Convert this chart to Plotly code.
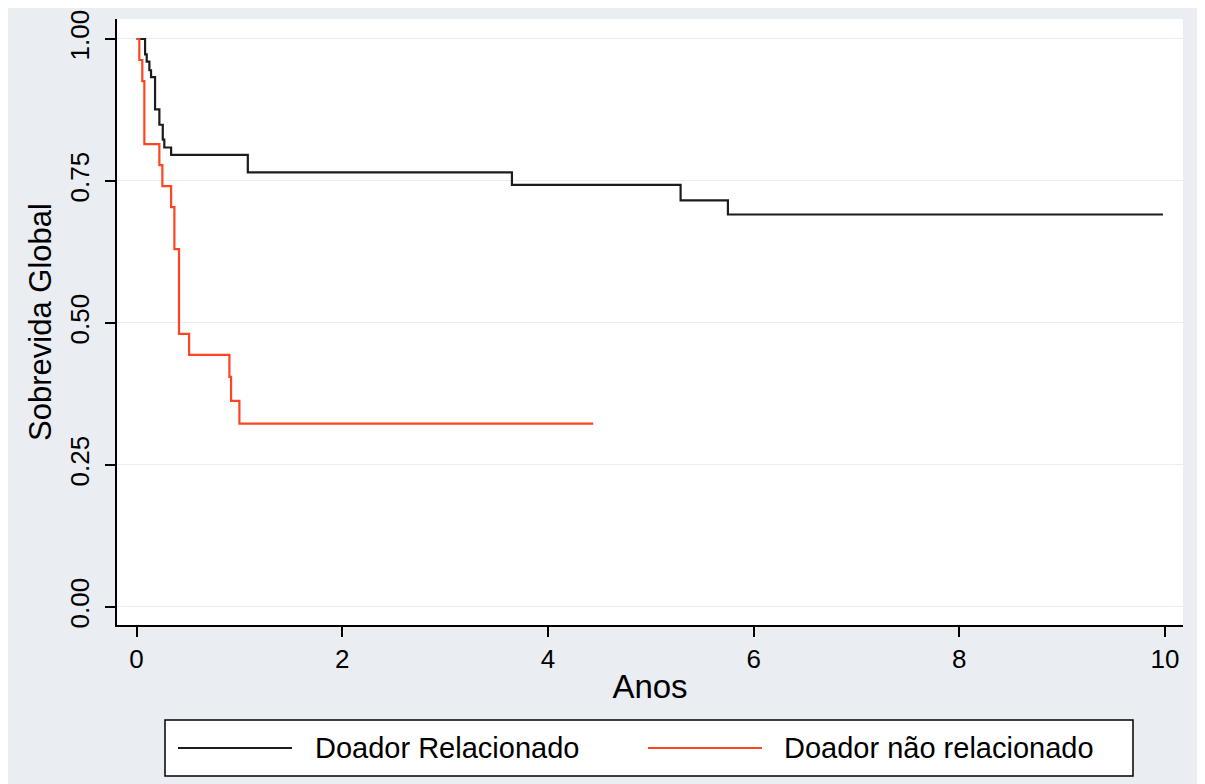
import plotly.graph_objects as go

# Kaplan-Meier estimates
rel_time = [0, 0.083, 0.099, 0.125, 0.141, 0.180, 0.222, 0.255, 0.270, 0.336,
            1.082, 3.65, 5.29, 5.75, 9.98]
rel_surv = [1.0, 0.973, 0.960, 0.945, 0.933, 0.876, 0.849, 0.823, 0.809, 0.796,
            0.765, 0.743, 0.716, 0.691, 0.691]

unrel_time = [0, 0.027, 0.056, 0.076, 0.222, 0.251, 0.336, 0.368, 0.413, 0.511,
              0.903, 0.919, 1.0, 4.44]
unrel_surv = [1.0, 0.963, 0.926, 0.815, 0.778, 0.741, 0.704, 0.630, 0.481, 0.444,
              0.405, 0.363, 0.323, 0.323]

series_names = ["Doador Relacionado", "Doador não relacionado"]
series_colors = ["#1c1c1c", "#ff4422"]

x_ticks = [0, 2, 4, 6, 8, 10]
y_ticks = [0, 0.25, 0.5, 0.75, 1.0]
y_tick_text = ["0.00", "0.25", "0.50", "0.75", "1.00"]

FONT = "Liberation Sans, Arial, sans-serif"
BG = "#eaedf2"

# page body adds an 8px margin; figure coordinates = screen coordinates - 8
OFF = 8
W, H = 1205 - OFF, 784 - OFF
L, R, T, B = 117 - OFF, 1205 - 1183, 19 - OFF, 784 - 625
PW, PH = W - L - R, H - T - B


def px_x(p):
    return (p - OFF - L) / PW


def px_y(p):
    return (H - B - (p - OFF)) / PH


fig = go.Figure()
fig.add_trace(go.Scatter(x=rel_time, y=rel_surv, mode="lines", line_shape="hv",
                         name=series_names[0], showlegend=False,
                         line=dict(color=series_colors[0], width=2.2)))
fig.add_trace(go.Scatter(x=unrel_time, y=unrel_surv, mode="lines", line_shape="hv",
                         name=series_names[1], showlegend=False,
                         line=dict(color=series_colors[1], width=2.2)))

shapes = []
# legend box
shapes.append(dict(type="rect", xref="paper", yref="paper",
                   x0=px_x(165), x1=px_x(1133), y0=px_y(776), y1=px_y(720),
                   line=dict(color="black", width=1.5), fillcolor="white", layer="above"))
annotations = []
sample_x = [(178, 292), (648, 762)]
text_x = [313, 782]
for i in range(2):
    shapes.append(dict(type="line", xref="paper", yref="paper",
                       x0=px_x(sample_x[i][0]), x1=px_x(sample_x[i][1]),
                       y0=px_y(748), y1=px_y(748),
                       line=dict(color=series_colors[i], width=2), layer="above"))
    annotations.append(dict(xref="paper", yref="paper", x=px_x(text_x[i]), y=px_y(748),
                            text=series_names[i], showarrow=False, xanchor="left",
                            yanchor="middle", font=dict(size=29, color="black", family=FONT)))

fig.update_layout(
    width=W, height=H,
    margin=dict(l=L, r=R, t=T, b=B, autoexpand=False),
    paper_bgcolor=BG, plot_bgcolor="white",
    font=dict(family=FONT, color="black"),
    shapes=shapes, annotations=annotations,
    showlegend=False,
)
fig.update_xaxes(
    range=[-0.19, 10.175], tickvals=x_ticks, ticks="outside", ticklen=10, tickwidth=1.5,
    tickcolor="black", showline=True, linecolor="black", linewidth=1.5, showgrid=False,
    zeroline=False, tickfont=dict(size=26, family=FONT), automargin=False,
    title=dict(text="Anos", font=dict(size=33, family=FONT), standoff=2),
)
fig.update_yaxes(
    range=[-0.0317, 1.0352], tickvals=y_ticks, ticktext=y_tick_text, tickangle=-90,
    ticks="outside", ticklen=10, tickwidth=1.5, tickcolor="black", showline=True,
    linecolor="black", linewidth=1.5, showgrid=True, gridcolor="#e8eef4", gridwidth=1,
    zeroline=False, tickfont=dict(size=26, family=FONT), ticklabelstandoff=6,
    automargin=False,
    title=dict(text="Sobrevida Global", font=dict(size=31, family=FONT), standoff=4),
)

fig.write_html("out.html")
